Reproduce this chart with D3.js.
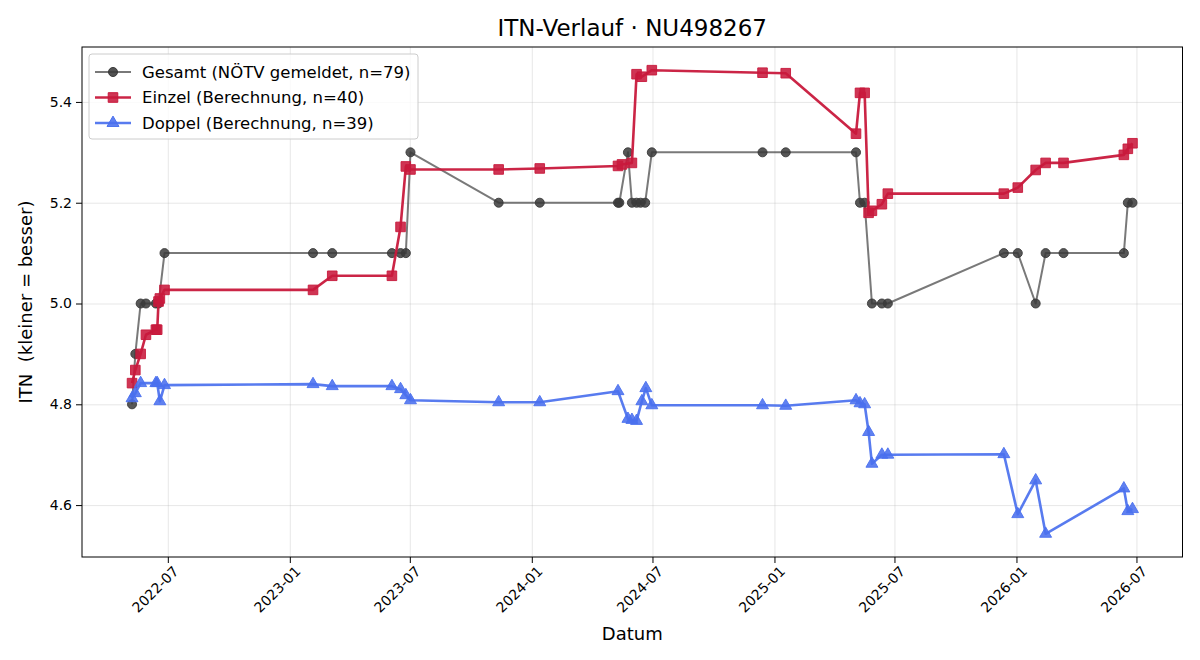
<!DOCTYPE html>
<html>
<head>
<meta charset="utf-8">
<script src="https://cdn.jsdelivr.net/npm/d3@7"></script>
<style>
  body { margin: 0; background: #fff; }
  svg { font-family: "DejaVu Sans", sans-serif; }
  .grid line { stroke: #b0b0b0; stroke-opacity: 0.3; stroke-width: 1; }
  .grid path { stroke: none; }
  .axis path, .axis line { stroke: #000; stroke-width: 1; }
</style>
</head>
<body>
<svg width="1200" height="660"></svg>
<script>
// ---- data ----
var gesamtDates = ["2022-05-08","2022-05-13","2022-05-21","2022-05-29","2022-06-13","2022-06-17","2022-06-26",
  "2023-02-05","2023-03-06","2023-06-04","2023-06-17","2023-06-25","2023-07-02","2023-11-12",
  "2024-01-13","2024-05-10","2024-05-12","2024-05-25","2024-05-31","2024-06-07","2024-06-13","2024-06-20","2024-06-30",
  "2024-12-14","2025-01-18","2025-05-04","2025-05-10","2025-05-17","2025-05-28","2025-06-12","2025-06-21",
  "2025-12-13","2026-01-03","2026-01-30","2026-02-14","2026-03-13","2026-06-12","2026-06-18","2026-06-25"];
var gesamtValues = [4.8,4.9,5.0,5.0,5.0,5.0,5.1,
  5.1,5.1,5.1,5.1,5.1,5.3,5.2,
  5.2,5.2,5.2,5.3,5.2,5.2,5.2,5.2,5.3,
  5.3,5.3,5.3,5.2,5.2,5.0,5.0,5.0,
  5.1,5.1,5.0,5.1,5.1,5.1,5.2,5.2];

var einzelDates = ["2022-05-08","2022-05-13","2022-05-21","2022-05-29","2022-06-13","2022-06-15","2022-06-17","2022-06-19","2022-06-26",
  "2023-02-05","2023-03-06","2023-06-04","2023-06-17","2023-06-25","2023-07-02","2023-11-12",
  "2024-01-13","2024-05-10","2024-05-16","2024-05-31","2024-06-07","2024-06-15","2024-06-30","2024-12-14",
  "2025-01-18","2025-05-04","2025-05-10","2025-05-17","2025-05-23","2025-05-28","2025-06-12","2025-06-21","2025-12-13",
  "2026-01-03","2026-01-30","2026-02-14","2026-03-13","2026-06-12","2026-06-18","2026-06-25"];
var einzelValues = [4.842,4.868,4.900,4.938,4.948,4.948,5.004,5.010,5.027,
  5.027,5.055,5.055,5.152,5.272,5.266,5.266,
  5.268,5.273,5.276,5.279,5.455,5.450,5.463,5.458,
  5.457,5.337,5.418,5.418,5.180,5.184,5.197,5.218,5.218,
  5.230,5.265,5.279,5.279,5.295,5.307,5.318];

var doppelDates = ["2022-05-08","2022-05-13","2022-05-21","2022-06-13","2022-06-15","2022-06-19","2022-06-26",
  "2023-02-05","2023-03-06","2023-06-04","2023-06-17","2023-06-25","2023-07-02","2023-11-12",
  "2024-01-13","2024-05-10","2024-05-25","2024-05-31","2024-06-07","2024-06-15","2024-06-21","2024-06-30","2024-12-14",
  "2025-01-18","2025-05-04","2025-05-10","2025-05-17","2025-05-23","2025-05-28","2025-06-12","2025-06-21","2025-12-13",
  "2026-01-03","2026-01-30","2026-02-14","2026-06-12","2026-06-18","2026-06-25"];
var doppelValues = [4.812,4.822,4.842,4.842,4.842,4.806,4.838,
  4.840,4.836,4.836,4.830,4.818,4.808,4.804,
  4.804,4.826,4.771,4.769,4.767,4.806,4.832,4.798,4.798,
  4.797,4.808,4.802,4.800,4.745,4.682,4.700,4.700,4.701,
  4.582,4.649,4.543,4.633,4.588,4.592];

var seriesLabels = ["Gesamt (NÖTV gemeldet, n=79)", "Einzel (Berechnung, n=40)", "Doppel (Berechnung, n=39)"];
var titleText = "ITN-Verlauf · NU498267";

// ---- layout ----
var svg = d3.select("svg"),
    margin = {top: 47, right: 17.5, bottom: 103, left: 82},
    width = 1200 - margin.left - margin.right,
    height = 660 - margin.top - margin.bottom,
    g = svg.append("g").attr("transform", "translate(" + margin.left + "," + margin.top + ")");

var parseTime = d3.timeParse("%Y-%m-%d");

function zip(dates, values) {
  return dates.map(function(d, i) { return {date: parseTime(d), value: values[i]}; });
}

var series = [
  {label: seriesLabels[0], values: zip(gesamtDates, gesamtValues), color: "#3a3a3a", lineOpacity: 0.68, width: 2, marker: d3.symbolCircle, size: 64},
  {label: seriesLabels[1], values: zip(einzelDates, einzelValues), color: "#c8193c", lineOpacity: 0.95, width: 2.6, marker: d3.symbolSquare, size: 92},
  {label: seriesLabels[2], values: zip(doppelDates, doppelValues), color: "#4a70ee", lineOpacity: 0.92, width: 2.6, marker: d3.symbolTriangle, size: 62}
];

var allPts = d3.merge(series.map(function(s) { return s.values; }));
var xExt = d3.extent(allPts, function(d) { return d.date; }),
    yExt = d3.extent(allPts, function(d) { return d.value; });
var xPad = (xExt[1] - xExt[0]) * 0.05,
    yPad = (yExt[1] - yExt[0]) * 0.05;

var x = d3.scaleTime()
    .domain([new Date(+xExt[0] - xPad), new Date(+xExt[1] + xPad)])
    .range([0, width]);
var y = d3.scaleLinear()
    .domain([yExt[0] - yPad, yExt[1] + yPad])
    .range([height, 0]);

var xTicks = x.ticks(d3.timeMonth.every(6));
var yTicks = y.ticks(5);

// Gridlines
g.append("g")
    .attr("class", "grid")
    .attr("transform", "translate(0," + height + ")")
    .call(d3.axisBottom(x).tickValues(xTicks).tickSize(-height).tickFormat(""));
g.append("g")
    .attr("class", "grid")
    .call(d3.axisLeft(y).tickValues(yTicks).tickSize(-width).tickFormat(""));

// Lines + markers per series
var line = d3.line()
    .x(function(d) { return x(d.date); })
    .y(function(d) { return y(d.value); });

series.forEach(function(s) {
  var sg = g.append("g").attr("class", "series");
  sg.append("path")
      .attr("d", line(s.values))
      .attr("fill", "none")
      .attr("stroke", s.color)
      .attr("stroke-opacity", s.lineOpacity)
      .attr("stroke-width", s.width)
      .attr("stroke-linejoin", "round");
  sg.selectAll(".pt")
      .data(s.values)
      .enter().append("path")
      .attr("class", "pt")
      .attr("d", d3.symbol().type(s.marker).size(s.size))
      .attr("transform", function(d) { return "translate(" + x(d.date) + "," + y(d.value) + ")"; })
      .attr("fill", s.color)
      .attr("fill-opacity", s === series[0] ? 0.85 : 0.88)
      .attr("stroke", s.color)
      .attr("stroke-opacity", 0.9)
      .attr("stroke-width", 1);
});

// Axes
var xAxis = g.append("g")
    .attr("class", "axis")
    .attr("transform", "translate(0," + height + ")")
    .call(d3.axisBottom(x).tickValues(xTicks).tickSize(6).tickFormat(d3.timeFormat("%Y-%m")));
xAxis.select(".domain").remove();
xAxis.selectAll("text")
    .style("font-size", "14px")
    .style("font-family", "DejaVu Sans")
    .attr("fill", "#000")
    .attr("text-anchor", "end")
    .attr("transform", "translate(4,8) rotate(-45)")
    .attr("x", 0)
    .attr("y", 0)
    .attr("dy", "0.72em");

var yAxis = g.append("g")
    .attr("class", "axis")
    .call(d3.axisLeft(y).tickValues(yTicks).tickSize(6).tickPadding(4).tickFormat(d3.format(".1f")));
yAxis.select(".domain").remove();
yAxis.selectAll("text")
    .style("font-size", "14px")
    .style("font-family", "DejaVu Sans")
    .attr("fill", "#000");

// frame
g.append("rect")
    .attr("width", width)
    .attr("height", height)
    .attr("fill", "none")
    .attr("stroke", "#000")
    .attr("stroke-width", 1);

// Title & labels
svg.append("text")
    .attr("x", margin.left + width / 2)
    .attr("y", 36)
    .attr("text-anchor", "middle")
    .style("font-size", "23px")
    .text(titleText);

svg.append("text")
    .attr("x", margin.left + width / 2)
    .attr("y", 640)
    .attr("text-anchor", "middle")
    .style("font-size", "18px")
    .text("Datum");

svg.append("text")
    .attr("transform", "translate(32," + (margin.top + height / 2) + ") rotate(-90)")
    .attr("text-anchor", "middle")
    .style("font-size", "18px")
    .style("white-space", "pre")
    .text("ITN  (kleiner = besser)");

// Legend
var legend = g.append("g").attr("transform", "translate(7,7)");
legend.append("rect")
    .attr("width", 329)
    .attr("height", 85)
    .attr("rx", 3)
    .attr("fill", "#fff")
    .attr("fill-opacity", 0.8)
    .attr("stroke", "#cccccc")
    .attr("stroke-width", 1);

var item = legend.selectAll(".item")
    .data(series)
    .enter().append("g")
    .attr("class", "item")
    .attr("transform", function(d, i) { return "translate(0," + (18 + i * 25.5) + ")"; });

item.append("line")
    .attr("x1", 6).attr("x2", 42)
    .attr("stroke", function(d) { return d.color; })
    .attr("stroke-opacity", function(d) { return d.lineOpacity; })
    .attr("stroke-width", function(d) { return d.width; });
item.append("path")
    .attr("d", function(d) { return d3.symbol().type(d.marker).size(d.size)(); })
    .attr("transform", "translate(24,0)")
    .attr("fill", function(d) { return d.color; })
    .attr("fill-opacity", 0.88)
    .attr("stroke", function(d) { return d.color; })
    .attr("stroke-width", 1);
item.append("text")
    .attr("x", 53)
    .attr("dy", "0.36em")
    .style("font-size", "16.5px")
    .text(function(d) { return d.label; });
</script>
</body>
</html>
